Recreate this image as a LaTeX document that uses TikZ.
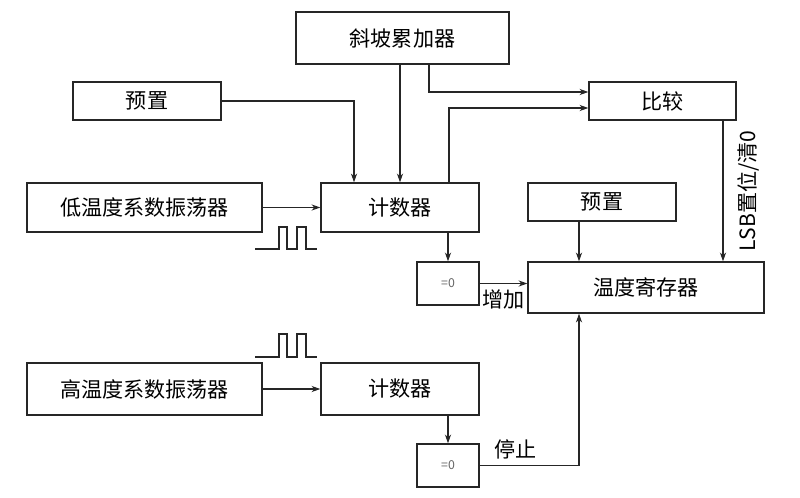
\documentclass[tikz,border=0pt]{standalone}
\usepackage{fontspec}
\newfontfamily\cjk{Noto Sans CJK SC}
\usetikzlibrary{arrows.meta, positioning}
\tikzset{
    >={Stealth[length=5pt,width=3.5pt]}, % punte piene
    block/.style 2 args={draw=black!85, line width=0.8pt, inner sep=0pt,
        minimum width=#1, minimum height=#2, font=\cjk\fontsize{12}{14}\selectfont},
    zero/.style={block={1.24cm}{0.86cm}, font=\cjk\fontsize{7}{8}\selectfont, text=black!60},
    hv/.style={to path={-| (\tikztotarget) \tikztonodes}}, % prima orizzontale
    vh/.style={to path={|- (\tikztotarget) \tikztonodes}}, % prima verticale
    lbl/.style={font=\cjk\fontsize{12}{14}\selectfont, text=black},
}

\begin{document}
\begin{tikzpicture}[x=0.02cm, y=-0.02cm, line width=0.6pt]
    \useasboundingbox (0,0) rectangle (800,497);

    % Blocchi
    \node[block={4.26cm}{1.04cm}] (ramp) at (402.5,38) {斜坡累加器};
    \node[block={2.96cm}{0.76cm}] (preset1) at (147,101) {预置};
    \node[block={2.94cm}{0.76cm}] (cmp) at (662.5,101) {比较};
    \node[block={4.7cm}{0.98cm}] (osclow) at (144.5,207.5) {低温度系数振荡器};
    \node[block={3.16cm}{0.98cm}] (cnt1) at (400,207.5) {计数器};
    \node[block={2.96cm}{0.76cm}] (preset2) at (602,202) {预置};
    \node[zero] (zero1) at (448,283.5) {=0};
    \node[block={4.72cm}{1.02cm}] (reg) at (646,287.5) {温度寄存器};
    \node[block={4.7cm}{1.04cm}] (oschigh) at (144.5,389) {高温度系数振荡器};
    \node[block={3.16cm}{1.04cm}] (cnt2) at (400,389) {计数器};
    \node[zero] (zero2) at (448,465.5) {=0};

    \coordinate (lsb) at ([xshift=1.21cm]cmp.south);
    \coordinate (pz) at ([xshift=-0.46cm]preset2.south);

    % Collegamenti
    \path[->, black!85]
        (osclow) edge (cnt1)
        (preset1.east) edge[hv] ([xshift=-0.92cm]cnt1.north)
        (cnt1.north |- ramp.south) edge (cnt1.north)
        ([xshift=0.53cm]ramp.south) edge[vh] ([yshift=0.18cm]cmp.west)
        ([xshift=0.98cm]cnt1.north) edge[vh] ([yshift=-0.14cm]cmp.west)
        (lsb) edge node[lbl, midway, rotate=90, anchor=north, inner sep=8pt] {LSB置位/清0} (lsb |- reg.north)
        (pz) edge (pz |- reg.north)
        (zero1.north |- cnt1.south) edge (zero1.north)
        (zero1.east) edge node[lbl, below] {增加} (zero1.east -| reg.west)
        (oschigh) edge (cnt2)
        (zero2.north |- cnt2.south) edge (zero2.north)
        (zero2.east) edge[hv] node[lbl, above, pos=0.18] {停止} (pz |- reg.south);

    % Impulsi
    \foreach \b/\t in {249/227, 357/334}
        \draw[black!85] (255,\b) -- (279,\b) -- (279,\t) -- (287,\t) -- (287,\b)
            -- (297,\b) -- (297,\t) -- (306,\t) -- (306,\b) -- (317,\b);
\end{tikzpicture}
\end{document}
